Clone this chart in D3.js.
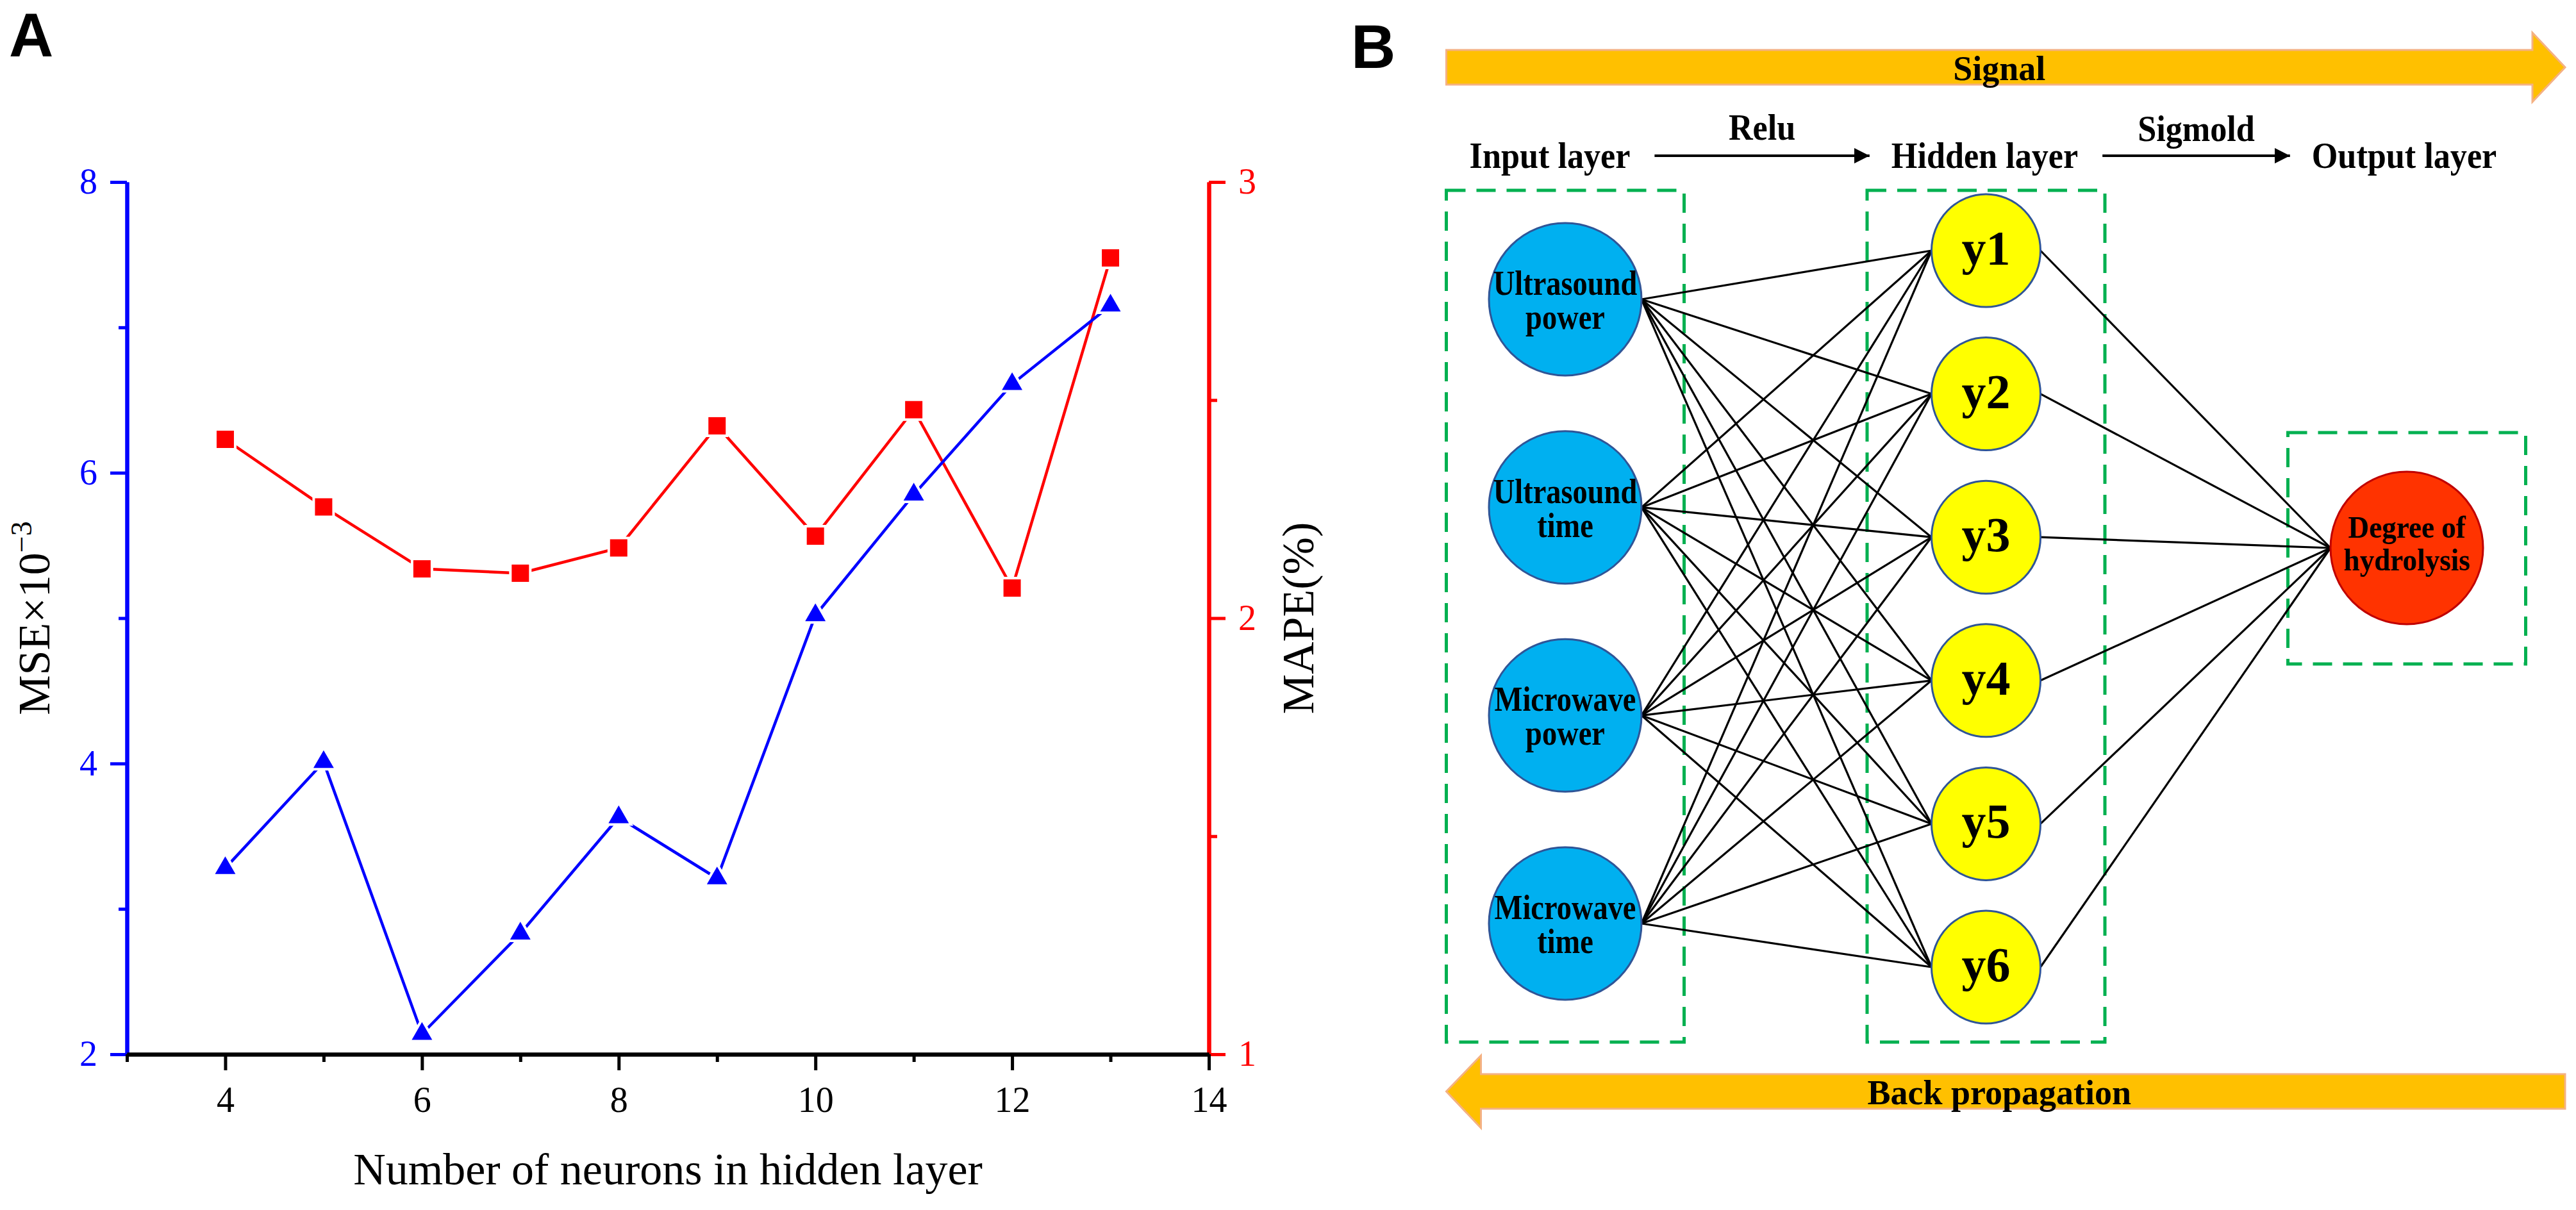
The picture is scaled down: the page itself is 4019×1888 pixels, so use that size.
<!DOCTYPE html>
<html lang="en">
<head>
  <meta charset="UTF-8">
  <title>Hidden layer neurons and network structure</title>
  <script src="https://d3js.org/d3.v7.min.js"></script>
  <style>
    body {
      margin: 0;
      background: #fff;
    }

    svg {
      display: block;
    }

    .serif {
      font-family: "Liberation Serif", "Times New Roman", serif;
    }

    .panel-label {
      font-family: "Liberation Sans", Arial, sans-serif;
      font-weight: bold;
      font-size: 96px;
    }

    .tick text {
      font-family: "Liberation Serif", "Times New Roman", serif;
      font-size: 56px;
    }
  </style>
</head>
<body>
  <svg id="fig"></svg>
  <script>
    // Panel A data
    const neurons = [4, 5, 6, 7, 8, 9, 10, 11, 12, 13];
    const mse = [3.28, 4.01, 2.14, 2.83, 3.63, 3.21, 5.02, 5.85, 6.61, 7.15];
    const mape = [2.41, 2.255, 2.113, 2.103, 2.161, 2.441, 2.188, 2.478, 2.069, 2.826];
    const xTicks = [4, 6, 8, 10, 12, 14];
    const xMinor = [3, 5, 7, 9, 11, 13];
    const mseTicks = [2, 4, 6, 8];
    const mseMinor = [3, 5, 7];
    const mapeTicks = [1, 2, 3];
    const mapeMinor = [1.5, 2.5];

    // Panel B data
    const layerNames = ["Input layer", "Hidden layer", "Output layer"];
    const activations = ["Relu", "Sigmold"];
    const inputNodes = [["Ultrasound", "power"], ["Ultrasound", "time"], ["Microwave", "power"], ["Microwave", "time"]];
    const hiddenNodes = ["y1", "y2", "y3", "y4", "y5", "y6"];
    const outputNodes = [["Degree of", "hydrolysis"]];
    const flowLabels = ["Signal", "Back propagation"];

    const width = 4019;
    const height = 1888;

    const svg = d3.select("#fig")
      .attr("width", width)
      .attr("height", height);

    svg.append("rect").attr("width", width).attr("height", height).attr("fill", "#fff");

    // ---------- Panel A ----------
    const blue = "#0000ff";
    const red = "#ff0000";

    const x = d3.scaleLinear().domain([3, 14]).range([198, 1886]);
    const yL = d3.scaleLinear().domain([2, 8]).range([1645, 284]);
    const yR = d3.scaleLinear().domain([1, 3]).range([1645, 284]);
    const intFmt = d3.format("d");

    svg.append("text").attr("class", "panel-label").attr("x", 14).attr("y", 88).text("A");

    function styleAxis(g, color, w) {
      g.select(".domain").attr("stroke", color).attr("stroke-width", w);
      g.selectAll(".tick line").attr("stroke", color).attr("stroke-width", 5);
      g.selectAll(".tick text").attr("fill", color);
    }

    // left axis (MSE)
    const gL = svg.append("g").attr("transform", `translate(${x(3)},0)`);
    gL.call(d3.axisLeft(yL).tickValues(mseMinor).tickSize(13).tickSizeOuter(0).tickFormat(""));
    gL.call(g => styleAxis(g, blue, 6));
    const gL2 = svg.append("g").attr("transform", `translate(${x(3)},0)`);
    gL2.call(d3.axisLeft(yL).tickValues(mseTicks).tickSize(26).tickSizeOuter(0).tickPadding(20).tickFormat(intFmt));
    gL2.call(g => styleAxis(g, blue, 6));

    // right axis (MAPE)
    const gR = svg.append("g").attr("transform", `translate(${x(14)},0)`);
    gR.call(d3.axisRight(yR).tickValues(mapeMinor).tickSize(13).tickSizeOuter(0).tickFormat(""));
    gR.call(g => styleAxis(g, red, 6));
    const gR2 = svg.append("g").attr("transform", `translate(${x(14)},0)`);
    gR2.call(d3.axisRight(yR).tickValues(mapeTicks).tickSize(26).tickSizeOuter(0).tickPadding(20).tickFormat(intFmt));
    gR2.call(g => styleAxis(g, red, 6));

    // bottom axis
    const gB = svg.append("g").attr("transform", `translate(0,${yL(2)})`);
    gB.call(d3.axisBottom(x).tickValues(xMinor).tickSize(12).tickSizeOuter(0).tickFormat(""));
    gB.call(g => styleAxis(g, "#000", 6));
    const gB2 = svg.append("g").attr("transform", `translate(0,${yL(2)})`);
    gB2.call(d3.axisBottom(x).tickValues(xTicks).tickSize(25).tickSizeOuter(0).tickPadding(25).tickFormat(intFmt));
    gB2.call(g => styleAxis(g, "#000", 6));

    // axis titles
    svg.append("text")
      .attr("class", "serif")
      .attr("x", (x(3) + x(14)) / 2)
      .attr("y", 1848)
      .attr("text-anchor", "middle")
      .attr("font-size", 70)
      .text("Number of neurons in hidden layer");

    const mseTitle = svg.append("text")
      .attr("class", "serif")
      .attr("transform", `translate(77,${(yL(2) + yL(8)) / 2}) rotate(-90)`)
      .attr("text-anchor", "middle")
      .attr("font-size", 70);
    mseTitle.append("tspan").text("MSE\u00d710");
    mseTitle.append("tspan").attr("dy", -28).attr("font-size", 46).text("\u22123");

    svg.append("text")
      .attr("class", "serif")
      .attr("transform", `translate(2049,${(yR(1) + yR(3)) / 2}) rotate(-90)`)
      .attr("text-anchor", "middle")
      .attr("font-size", 70)
      .text("MAPE(%)");

    // series
    const mseLine = d3.line().x((d, i) => x(neurons[i])).y(d => yL(d));
    const mapeLine = d3.line().x((d, i) => x(neurons[i])).y(d => yR(d));

    svg.append("path").datum(mape).attr("d", mapeLine)
      .attr("fill", "none").attr("stroke", red).attr("stroke-width", 4.5);
    svg.append("path").datum(mse).attr("d", mseLine)
      .attr("fill", "none").attr("stroke", blue).attr("stroke-width", 4.5);

    svg.append("g").selectAll("path")
      .data(mape)
      .join("path")
      .attr("transform", (d, i) => `translate(${x(neurons[i])},${yR(d)})`)
      .attr("d", d3.symbol(d3.symbolSquare, 729))
      .attr("fill", red)
      .attr("stroke", "#fff")
      .attr("stroke-width", 8)
      .attr("paint-order", "stroke");

    svg.append("g").selectAll("path")
      .data(mse)
      .join("path")
      .attr("transform", (d, i) => `translate(${x(neurons[i])},${yL(d)})`)
      .attr("d", d3.symbol(d3.symbolTriangle, 440))
      .attr("fill", blue)
      .attr("stroke", "#fff")
      .attr("stroke-width", 8)
      .attr("paint-order", "stroke");

    // ---------- Panel B ----------
    svg.append("text").attr("class", "panel-label").attr("x", 2108).attr("y", 106).text("B");

    const layerX = d3.scalePoint().domain(layerNames).range([2442, 3755]);
    const inputY = d3.scalePoint().domain(d3.range(inputNodes.length)).range([467, 1441]);
    const hiddenY = d3.scalePoint().domain(hiddenNodes).range([391, 1509]);
    const outputY = 855;
    const rIn = 119, rHx = 85, rHy = 88, rOut = 119;
    const boxHalf = 185.5;

    const gNet = svg.append("g").attr("class", "serif");

    // flow arrows
    const orange = "#ffc000";
    const arrowLeft = layerX(layerNames[0]) - boxHalf;
    const arrowRight = 4002;
    const sig = [[arrowLeft, 78], [arrowRight - 51, 78], [arrowRight - 51, 51], [arrowRight, 105],
      [arrowRight - 51, 159], [arrowRight - 51, 132], [arrowLeft, 132]];
    const back = [[arrowRight, 1676], [arrowLeft + 54, 1676], [arrowLeft + 54, 1647], [arrowLeft, 1703],
      [arrowLeft + 54, 1760], [arrowLeft + 54, 1730], [arrowRight, 1730]];
    [sig, back].forEach(pts => {
      gNet.append("path")
        .attr("d", d3.line()(pts) + "Z")
        .attr("fill", orange)
        .attr("stroke", "#f4b183")
        .attr("stroke-width", 3);
    });
    gNet.append("text").attr("x", (arrowLeft + arrowRight) / 2 - 10).attr("y", 125)
      .attr("text-anchor", "middle").attr("font-weight", "bold").attr("font-size", 54).text(flowLabels[0]);
    gNet.append("text").attr("x", (arrowLeft + arrowRight) / 2 - 10).attr("y", 1723)
      .attr("text-anchor", "middle").attr("font-weight", "bold").attr("font-size", 54).text(flowLabels[1]);

    // layer names
    const nameOffset = [-24, -2, -4];
    const names = gNet.selectAll(".lname")
      .data(layerNames)
      .join("text")
      .attr("class", "lname")
      .attr("transform", (d, i) => `translate(${layerX(d) + nameOffset[i]},262) scale(0.9,1)`)
      .attr("text-anchor", "middle")
      .attr("font-weight", "bold")
      .attr("font-size", 58)
      .text(d => d);

    const half = names.nodes().map(n => n.getBBox().width * 0.9 / 2);
    const centers = layerNames.map((d, i) => layerX(d) + nameOffset[i]);
    svg.append("defs").append("marker")
      .attr("id", "head")
      .attr("viewBox", "0 0 10 10")
      .attr("refX", 10).attr("refY", 5)
      .attr("markerWidth", 6).attr("markerHeight", 6)
      .attr("markerUnits", "strokeWidth")
      .attr("orient", "auto")
      .append("path").attr("d", "M0,0L10,5L0,10Z").attr("fill", "#000");

    activations.forEach((a, i) => {
      const x1 = centers[i] + half[i] + 38;
      const x2 = centers[i + 1] - half[i + 1] - 34;
      gNet.append("line")
        .attr("x1", x1).attr("x2", x2).attr("y1", 243).attr("y2", 243)
        .attr("stroke", "#000").attr("stroke-width", 4)
        .attr("marker-end", "url(#head)");
      gNet.append("text")
        .attr("transform", `translate(${(x1 + x2) / 2},${218 + i * 2}) scale(0.9,1)`)
        .attr("text-anchor", "middle")
        .attr("font-weight", "bold")
        .attr("font-size", 58)
        .text(a);
    });

    // dashed boxes
    const green = "#00b050";
    const boxes = [
      [layerX(layerNames[0]) - boxHalf, 297, 371, 1329],
      [layerX(layerNames[1]) - boxHalf, 297, 371, 1329],
      [layerX(layerNames[2]) - boxHalf, outputY - 180, 371, 361]
    ];
    gNet.selectAll(".box")
      .data(boxes)
      .join("rect")
      .attr("class", "box")
      .attr("x", d => d[0]).attr("y", d => d[1])
      .attr("width", d => d[2]).attr("height", d => d[3])
      .attr("fill", "none")
      .attr("stroke", green)
      .attr("stroke-width", 5)
      .attr("stroke-dasharray", "30 17");

    // connections
    const links = [];
    inputNodes.forEach((n, i) => hiddenNodes.forEach(h => links.push([
      layerX(layerNames[0]) + rIn, inputY(i), layerX(layerNames[1]) - rHx, hiddenY(h)])));
    hiddenNodes.forEach(h => links.push([
      layerX(layerNames[1]) + rHx, hiddenY(h), layerX(layerNames[2]) - rOut, outputY]));
    gNet.selectAll(".link")
      .data(links)
      .join("line")
      .attr("class", "link")
      .attr("x1", d => d[0]).attr("y1", d => d[1])
      .attr("x2", d => d[2]).attr("y2", d => d[3])
      .attr("stroke", "#000")
      .attr("stroke-width", 3.2);

    // input nodes
    const gIn = gNet.selectAll(".in")
      .data(inputNodes)
      .join("g")
      .attr("class", "in")
      .attr("transform", (d, i) => `translate(${layerX(layerNames[0])},${inputY(i)})`);
    gIn.append("circle").attr("r", rIn).attr("fill", "#00b0f0").attr("stroke", "#2f5597").attr("stroke-width", 3);
    gIn.append("text").attr("transform", "translate(0,-7) scale(0.86,1)").attr("text-anchor", "middle")
      .attr("font-weight", "bold").attr("font-size", 54).text(d => d[0]);
    gIn.append("text").attr("transform", "translate(0,46) scale(0.86,1)").attr("text-anchor", "middle")
      .attr("font-weight", "bold").attr("font-size", 54).text(d => d[1]);

    // hidden nodes
    const gHid = gNet.selectAll(".hid")
      .data(hiddenNodes)
      .join("g")
      .attr("class", "hid")
      .attr("transform", d => `translate(${layerX(layerNames[1])},${hiddenY(d)})`);
    gHid.append("ellipse").attr("rx", rHx).attr("ry", rHy).attr("fill", "#ffff00").attr("stroke", "#2f5597").attr("stroke-width", 3);
    gHid.append("text").attr("y", 22).attr("text-anchor", "middle").attr("font-weight", "bold")
      .attr("font-size", 76).text(d => d);

    // output node
    const gOut = gNet.selectAll(".out")
      .data(outputNodes)
      .join("g")
      .attr("class", "out")
      .attr("transform", `translate(${layerX(layerNames[2])},${outputY})`);
    gOut.append("circle").attr("r", rOut).attr("fill", "#ff3300").attr("stroke", "#c00000").attr("stroke-width", 3);
    gOut.append("text").attr("transform", "translate(0,-16) scale(0.94,1)").attr("text-anchor", "middle")
      .attr("font-weight", "bold").attr("font-size", 48).text(d => d[0]);
    gOut.append("text").attr("transform", "translate(0,35) scale(0.94,1)").attr("text-anchor", "middle")
      .attr("font-weight", "bold").attr("font-size", 48).text(d => d[1]);
  </script>
</body>
</html>
